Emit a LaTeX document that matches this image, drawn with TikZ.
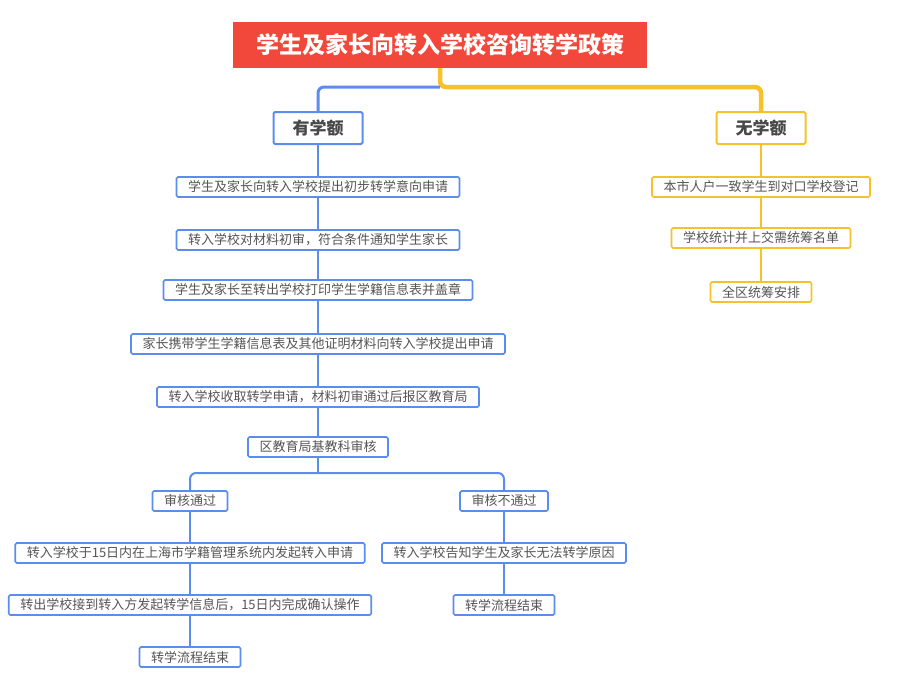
\documentclass[tikz,border=0pt]{standalone}
\usepackage{fontspec}
\newfontfamily\cjk{Noto Sans CJK SC}
\definecolor{ink}{HTML}{555555}
\definecolor{blue}{HTML}{5B8DEE}
\definecolor{gold}{HTML}{F6C12A}
\definecolor{red}{HTML}{F2473B}

\begin{document}
\begin{tikzpicture}[x=1pt,y=-1pt,font=\cjk]
\tikzset{
  stepbox/.style={draw=blue,line width=1.7pt,rounded corners=1.5pt,fill=white,text=ink,
    font=\cjk\fontsize{13}{15}\selectfont,inner xsep=11.5pt,inner ysep=0pt,minimum height=20pt},
  goldbox/.style={stepbox,draw=gold},
  headbox/.style={stepbox,font=\cjk\bfseries\fontsize{17}{19}\selectfont,text=ink!85!black,
    line width=2pt,inner xsep=19pt,minimum height=32pt},
  titlebox/.style={fill=red,text=white,font=\cjk\bfseries\fontsize{23}{25}\selectfont,
    inner xsep=23pt,minimum height=46pt},
  bline/.style={blue,line width=2pt,rounded corners=6pt},
  gline/.style={gold,line width=2pt,rounded corners=6pt}
}
\useasboundingbox[fill=white] (0,0) rectangle (899,678);

\node[titlebox] (title) at (440,45) {学生及家长向转入学校咨询转学政策};

% with places
\node[headbox] (yes) at (318,128) {有学额};
\node[stepbox] (y1) at (318,187) {学生及家长向转入学校提出初步转学意向申请};
\node[stepbox] (y2) at (318,240) {转入学校对材料初审，符合条件通知学生家长};
\node[stepbox] (y3) at (318,290) {学生及家长至转出学校打印学生学籍信息表并盖章};
\node[stepbox] (y4) at (318,344) {家长携带学生学籍信息表及其他证明材料向转入学校提出申请};
\node[stepbox] (y5) at (318,397) {转入学校收取转学申请，材料初审通过后报区教育局};
\node[stepbox] (audit) at (318,447) {区教育局基教科审核};
\node[stepbox] (pass) at (190,501) {审核通过};
\node[stepbox] (p1) at (190,553) {转入学校于15日内在上海市学籍管理系统内发起转入申请};
\node[stepbox] (p2) at (190,605) {转出学校接到转入方发起转学信息后，15日内完成确认操作};
\node[stepbox] (p3) at (190,657) {转学流程结束};
\node[stepbox] (fail) at (504,501) {审核不通过};
\node[stepbox] (f1) at (504,553) {转入学校告知学生及家长无法转学原因};
\node[stepbox] (f2) at (504,605) {转学流程结束};

% without places
\node[headbox,draw=gold] (no) at (761,128) {无学额};
\node[goldbox] (n1) at (761,187) {本市人户一致学生到对口学校登记};
\node[goldbox] (n2) at (761,238) {学校统计并上交需统筹名单};
\node[goldbox] (n3) at (761,292) {全区统筹安排};

% main branches
\coordinate (hub) at (440,87);
\draw[gline,line width=4.5pt] (title.south) |- (no.north |- hub) -- (no.north);
\draw[bline,line width=3pt] (hub) -- (yes.north |- hub) -- (yes.north);
\draw[gline,line width=4.5pt,rounded corners=0pt] (title.south) -- ++(0,16);

% chains
\foreach \a/\b in {yes/y1,y1/y2,y2/y3,y3/y4,y4/y5,y5/audit,pass/p1,p1/p2,p2/p3,fail/f1,f1/f2}
  \draw[bline] (\a) -- (\b);
\foreach \a/\b in {no/n1,n1/n2,n2/n3}
  \draw[gline] (\a) -- (\b);

% audit split
\coordinate (split) at (318,473);
\draw[bline] (audit) -- (split);
\draw[bline] (pass.north) |- (fail.north |- split) -- (fail.north);
\end{tikzpicture}
\end{document}
